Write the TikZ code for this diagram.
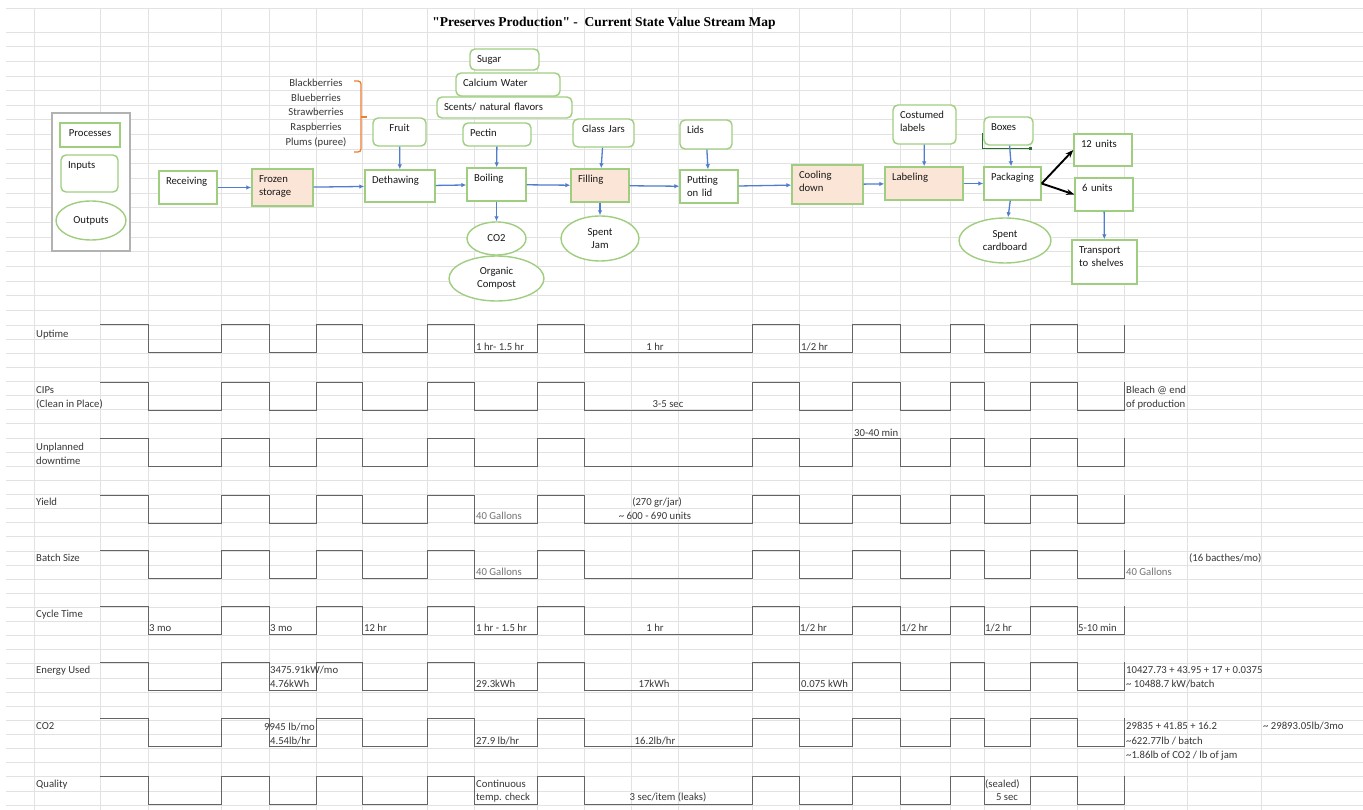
\documentclass[tikz,border=0pt]{standalone}
\usepackage{fontspec}
\setmainfont{Carlito}
\newfontfamily\titlefont{Liberation Serif}
\usetikzlibrary{arrows.meta, positioning, shapes.geometric}

\definecolor{boxgreen}{RGB}{160,206,128}
\definecolor{peach}{RGB}{251,229,214}
\definecolor{flowblue}{RGB}{80,125,205}
\definecolor{gridgray}{RGB}{226,226,226}
\definecolor{braceorange}{RGB}{237,125,49}
\definecolor{wavegray}{RGB}{100,100,100}
\definecolor{txtgray}{RGB}{55,55,55}
\definecolor{dimgray}{RGB}{115,115,115}
\definecolor{darkgreen}{RGB}{40,110,50}

\begin{document}
\begin{tikzpicture}[
  x=1pt, y=-1pt,
  font=\fontsize{10.7}{13}\selectfont,
  >=Stealth,
  block/.style ={draw=boxgreen, line width=1.4pt, fill=white, align=left, text=black!90,
                 inner xsep=7pt, inner ysep=0pt},
  bx/.style 2 args={text width=#1pt-14pt, text height=14pt, text depth=#2pt-14pt},
  proc/.style  ={block},
  stor/.style  ={block, fill=peach},
  inp/.style   ={block, rounded corners=5pt},
  outp/.style  ={block, ellipse, align=center, inner sep=0pt},
  arr/.style   ={-{Latex[length=5pt,width=4.5pt]}, flowblue, line width=1.3pt},
  barr/.style  ={-{Stealth[length=8pt,width=6pt]}, black, line width=1.9pt},
  wave/.style  ={wavegray, line width=1pt},
  gridln/.style={gridgray, line width=0.8pt},
  lbl/.style   ={anchor=base west, inner sep=0pt, text=txtgray},
  lblc/.style  ={anchor=base, inner sep=0pt, text=txtgray},
  faint/.style ={text=dimgray},
]
\fill[white] (0,0) rectangle (1363,810);
\useasboundingbox (0,0) rectangle (1363,810);

% --- spreadsheet grid ---
\foreach \gx in {34,100,148,221,269,316,362,427,474,537,584,631,678,752,799,852,900,950,984,1030,1077,1124,1187,1261}
  \draw[gridln] (\gx,8) -- (\gx,810);
\draw[gridln] (6,8) -- (1363,8);
\foreach \k in {0,...,20}
  \draw[gridln] (6,{32+14.65*\k}) -- (1363,{32+14.65*\k});
\foreach \k in {1,...,34}
  \draw[gridln] (6,{325+14.12*\k}) -- (1363,{325+14.12*\k});

\node[font=\titlefont\bfseries\fontsize{13.5}{15}\selectfont] (title) at (604,23)
  {"Preserves Production" -\ \ Current State Value Stream Map};

% --- timeline rows ---
\foreach \hy in {325,382,438,495,550,606,662,718,776}
  \draw[wave] (100,\hy) foreach \tx [count=\k] in {148,221,269,316,362,427,474,537,584,752,799,852,900,950,984,1030,1077,1124}
    { -| (\tx,{\hy+28*mod(\k,2)}) };

\node[lbl] (rUp)  at (36,337.5) {Uptime};
\node[lbl] (rCip) at (36,393.5) {CIPs};
\node[lbl] (rCipb) at (36,407.5) {(Clean in Place)};
\node[lbl] (rDt)  at (36,450.5) {Unplanned};
\node[lbl] (rDtb) at (36,464.5) {downtime};
\node[lbl] (rYd)  at (36,505.5) {Yield};
\node[lbl] (rBs)  at (36,561.5) {Batch Size};
\node[lbl] (rCt)  at (36,617.5) {Cycle Time};
\node[lbl] (rEn)  at (36,673.5) {Energy Used};
\node[lbl] (rCo)  at (36,729.5) {CO2};
\node[lbl] (rQl)  at (36,787.5) {Quality};

% uptime / CIPs / downtime
\node[lbl]  (up1) at (476,350.5) {1 hr- 1.5 hr};
\node[lblc] (up2) at (655,350.5) {1 hr};
\node[lbl]  (up3) at (801,350.5) {1/2 hr};
\node[lblc] (cip1) at (668,407.5) {3-5 sec};
\node[lbl]  (cip2) at (1126,393.5) {Bleach @ end};
\node[lbl]  (cip3) at (1126,407.5) {of production};
\node[lbl]  (dt1) at (854,436) {30-40 min};

% yield / batch size
\node[lbl, faint] (yd1) at (476,519.5) {40 Gallons};
\node[lblc] (yd2) at (657,505.5) {(270 gr/jar)};
\node[lblc] (yd3) at (655,519.5) {\textasciitilde{} 600 - 690 units};
\node[lbl, faint] (bs1) at (476,575.5) {40 Gallons};
\node[lbl, faint] (bs2) at (1126,575.5) {40 Gallons};
\node[lbl]  (bs3) at (1189,561.5) {(16 bacthes/mo)};

% cycle time
\node[lbl]  (ct1) at (149,631.5) {3 mo};
\node[lbl]  (ct2) at (270,631.5) {3 mo};
\node[lbl]  (ct3) at (364,631.5) {12 hr};
\node[lbl]  (ct4) at (476,631.5) {1 hr - 1.5 hr};
\node[lblc] (ct5) at (655,631.5) {1 hr};
\node[lbl]  (ct6) at (800,631.5) {1/2 hr};
\node[lbl]  (ct7) at (901,631.5) {1/2 hr};
\node[lbl]  (ct8) at (985,631.5) {1/2 hr};
\node[lbl]  (ct9) at (1078,631.5) {5-10 min};

% energy
\node[lbl]  (en1) at (270,673.5) {3475.91kW/mo};
\node[lbl]  (en2) at (270,687.5) {4.76kWh};
\node[lbl]  (en3) at (476,687.5) {29.3kWh};
\node[lblc] (en4) at (654,687.5) {17kWh};
\node[lbl]  (en5) at (801,687.5) {0.075 kWh};
\node[lbl]  (en6) at (1126,673.5) {10427.73 + 43.95 + 17 + 0.0375};
\node[lbl]  (en7) at (1126,687.5) {\textasciitilde{} 10488.7 kW/batch};

% CO2
\node[lbl]  (cv1) at (264,730) {9945 lb/mo};
\node[lbl]  (cv2) at (270,744.5) {4.54lb/hr};
\node[lbl]  (cv3) at (476,744.5) {27.9 lb/hr};
\node[lblc] (cv4) at (655,744.5) {16.2lb/hr};
\node[lbl]  (cv5) at (1126,729.5) {29835 + 41.85 + 16.2};
\node[lbl]  (cv6) at (1126,744.5) {\textasciitilde622.77lb / batch};
\node[lbl]  (cv7) at (1126,758.5) {\textasciitilde1.86lb of CO2 / lb of jam};
\node[lbl]  (cv8) at (1263,729.5) {\textasciitilde{} 29893.05lb/3mo};

% quality
\node[lbl]  (ql1) at (476,787.5) {Continuous};
\node[lbl]  (ql2) at (476,800.5) {temp. check};
\node[lblc] (ql3) at (668,800.5) {3 sec/item (leaks)};
\node[lbl]  (ql4) at (985,787.5) {(sealed)};
\node[lblc] (ql5) at (1007,800.5) {5 sec};

% --- legend ---
\node[draw=black!30, line width=1.6pt, fill=white, minimum width=78pt, minimum height=138pt] (legend) at (91,182) {};
\node[proc, align=center, bx={60}{24}] (lproc) at (90,135) {Processes};
\node[inp, bx={57}{37}] (linp) at (89.5,173.5) {Inputs};
\node[outp, minimum width=70pt, minimum height=39pt] (loutp) at (91,220.5) {Outputs};

% --- value stream ---
\node[proc, bx={58}{33}] (recv)   at (188,187.5) {Receiving};
\node[stor, bx={61}{37}] (frozen) at (282.5,187.5) {Frozen\\storage};
\node[proc, bx={70}{32}] (dethaw) at (400,186) {Dethawing};
\node[proc, bx={59}{33}] (boil)   at (496.5,184.5) {Boiling};
\node[stor, bx={58}{33}] (fill)   at (600,185.5) {Filling};
\node[proc, bx={58}{33}] (lid)    at (709,186.5) {Putting\\on lid};
\node[stor, bx={71}{39}] (cool)   at (827.5,184.5) {Cooling\\down};
\node[stor, bx={78}{33}] (label)  at (924,183.5) {Labeling};
\node[proc, align=center, bx={57}{33}] (pack) at (1012.5,183.5) {Packaging};
\node[proc, bx={58}{32}] (u12)    at (1103,150) {12 units};
\node[proc, bx={58}{33}] (u6)     at (1104,194.5) {6 units};
\node[proc, bx={65}{44}] (trans)  at (1104.5,262) {Transport\\to shelves};

% inputs
\node[align=center, text=txtgray, font=\fontsize{10.7}{14.6}\selectfont] (berries) at (316,113)
  {Blackberries\\Blueberries\\Strawberries\\Raspberries\\Plums (puree)};
\node[inp, align=center, bx={53}{28}] (fruit) at (399.5,132) {Fruit};
\node[inp, bx={69}{21}]  (sugar)  at (504.5,59.5) {Sugar};
\node[inp, bx={104}{23}] (calc)   at (508,84.5) {Calcium Water};
\node[inp, bx={135}{21}] (scent)  at (504.5,107.5) {Scents/ natural flavors};
\node[inp, bx={68}{23}]  (pectin) at (497,134.5) {Pectin};
\node[inp, align=center, bx={61}{28}] (jars) at (603.5,133) {Glass Jars};
\node[inp, bx={52}{29}]  (lids)   at (706,134.5) {Lids};
\node[inp, bx={63}{39}]  (costlab) at (924.5,124.5) {Costumed\\labels};
\node[inp, bx={49}{28}]  (boxes)  at (1008.5,131) {Boxes};

% outputs
\node[outp, minimum width=59pt, minimum height=33pt] (co2)  at (496.5,238.5) {CO2};
\node[outp, minimum width=95pt, minimum height=45pt] (compost) at (496.5,278.5) {Organic\\Compost};
\node[outp, minimum width=78pt, minimum height=45pt] (jam)  at (600,238.5) {Spent\\Jam};
\node[outp, minimum width=92pt, minimum height=45pt] (card) at (1005,240.5) {Spent\\cardboard};

% brace and stray bracket
\draw[braceorange, line width=1.3pt, rounded corners=3pt] (354,81) -- (361,81) -- (361,152) -- (354,152);
\draw[braceorange, line width=1.3pt] (361,117) -- (367,117);
\draw[darkgreen, line width=1pt] (982,133) -- (982,149) -- (1030,149);
\fill[darkgreen] (1028.5,147.5) rectangle (1031.5,150.5);

% main flow
\draw[arr] (recv) -- (frozen);
\draw[arr] (frozen) -- (dethaw);
\draw[arr] (dethaw) -- (boil);
\draw[arr] (boil) -- (fill);
\draw[arr] (fill) -- (lid);
\draw[arr] (lid) -- (cool);
\draw[arr] (cool) -- (label);
\draw[arr] (label) -- (pack);
% inputs in, outputs out
\draw[arr] (fruit) -- (dethaw);
\draw[arr] (pectin) -- (boil);
\draw[arr] (jars) -- (fill);
\draw[arr] (lids) -- (lid);
\draw[arr] (costlab) -- (label);
\draw[arr] (boxes) -- (pack);
\draw[arr] (boil) -- (co2);
\draw[arr] (fill) -- (jam);
\draw[arr] (pack) -- (card);
\draw[arr] (u6) -- (trans);
\draw[barr] (pack.east) -- (u12.west);
\draw[barr] (pack.east) -- (u6.west);

\end{tikzpicture}
\end{document}
